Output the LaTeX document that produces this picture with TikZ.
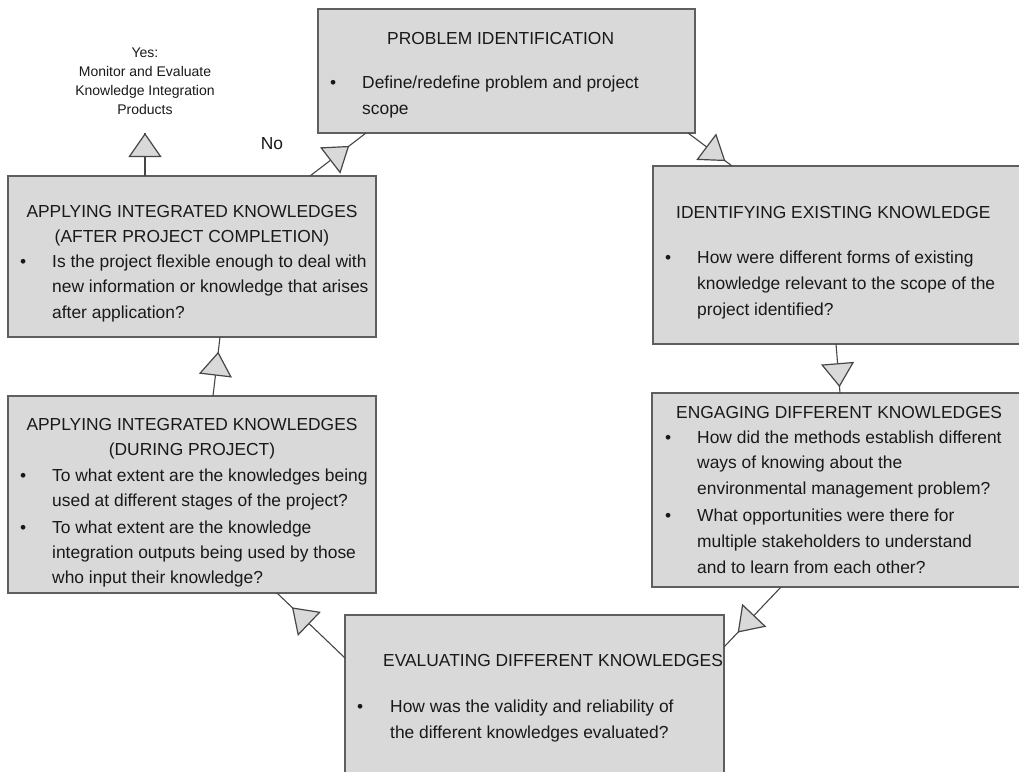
\documentclass[tikz,border=0pt]{standalone}
\usepackage{fontspec}
\setmainfont{Liberation Sans}
\usetikzlibrary{arrows.meta,decorations.markings,calc}
\definecolor{boxfill}{RGB}{217,217,217}
\definecolor{edgecol}{RGB}{95,95,95}
\definecolor{linecol}{RGB}{70,70,70}
\tikzset{
  bigtri/.tip={Triangle[length=24pt,width=33pt,fill=boxfill,line width=1.2pt]},
  box/.style={draw=edgecol, line width=1.6pt, fill=boxfill, anchor=north west, inner sep=0pt, outer sep=0pt},
  txt/.style={anchor=base west, inner sep=0pt, font=\fontsize{17.4}{22}\selectfont, text=black!90},
  ctxt/.style={anchor=base, inner sep=0pt, font=\fontsize{17.4}{22}\selectfont, text=black!90},
  small/.style={anchor=base, inner sep=0pt, font=\fontsize{14}{18}\selectfont, text=black!90},
  conn/.style={draw=linecol, line width=1.1pt},
  triat/.style={conn, postaction={decorate}, decoration={markings, mark=at position #1 with {\arrow[draw=linecol]{bigtri}}}}
}
\begin{document}
\begin{tikzpicture}[x=1pt,y=-1pt]
\clip (0,0) rectangle (1019,771);
\fill[white] (0,0) rectangle (1019,771);

% boxes
\node[box, minimum width=377pt, minimum height=124pt] (pi) at (318,9) {};
\node[box, minimum width=380pt, minimum height=178pt] (iek) at (653,166) {};
\node[box, minimum width=380pt, minimum height=194pt] (edk) at (652,393) {};
\node[box, minimum width=379pt, minimum height=180pt] (ev) at (345,615) {};
\node[box, minimum width=368pt, minimum height=197pt] (aikd) at (8,396) {};
\node[box, minimum width=368pt, minimum height=161pt] (aika) at (8,176) {};

% PROBLEM IDENTIFICATION
\node[txt] (pi1) at (387,44) {PROBLEM IDENTIFICATION};
\node[txt] (pib) at (330,88) {•};
\node[txt] (pi2) at (362,88) {Define/redefine problem and project};
\node[txt] (pi3) at (362,114) {scope};

% IDENTIFYING EXISTING KNOWLEDGE
\node[txt] (ie1) at (676,218) {IDENTIFYING EXISTING KNOWLEDGE};
\node[txt] (ieb) at (665,263) {•};
\node[txt] (ie2) at (697,263) {How were different forms of existing};
\node[txt] (ie3) at (697,289) {knowledge relevant to the scope of the};
\node[txt] (ie4) at (697,315) {project identified?};

% ENGAGING DIFFERENT KNOWLEDGES
\node[txt] (ed1) at (676,418) {ENGAGING DIFFERENT KNOWLEDGES};
\node[txt] (edb1) at (665,443) {•};
\node[txt] (ed2) at (697,443) {How did the methods establish different};
\node[txt] (ed3) at (697,468) {ways of knowing about the};
\node[txt] (ed4) at (697,494) {environmental management problem?};
\node[txt] (edb2) at (665,521) {•};
\node[txt] (ed5) at (697,521) {What opportunities were there for};
\node[txt] (ed6) at (697,547) {multiple stakeholders to understand};
\node[txt] (ed7) at (697,573) {and to learn from each other?};

% EVALUATING DIFFERENT KNOWLEDGES
\node[txt] (ev1) at (383,666) {EVALUATING DIFFERENT KNOWLEDGES};
\node[txt] (evb) at (357,712) {•};
\node[txt] (ev2) at (390,712) {How was the validity and reliability of};
\node[txt] (ev3) at (390,738) {the different knowledges evaluated?};

% APPLYING (DURING PROJECT)
\node[ctxt] (ad1) at (192,430) {APPLYING INTEGRATED KNOWLEDGES};
\node[ctxt] (ad2) at (192,455) {(DURING PROJECT)};
\node[txt] (adb1) at (20,481) {•};
\node[txt] (ad3) at (52,481) {To what extent are the knowledges being};
\node[txt] (ad4) at (52,506) {used at different stages of the project?};
\node[txt] (adb2) at (20,533) {•};
\node[txt] (ad5) at (52,533) {To what extent are the knowledge};
\node[txt] (ad6) at (52,558) {integration outputs being used by those};
\node[txt] (ad7) at (52,583) {who input their knowledge?};

% APPLYING (AFTER PROJECT COMPLETION)
\node[ctxt] (aa1) at (192,217) {APPLYING INTEGRATED KNOWLEDGES};
\node[ctxt] (aa2) at (192,242) {(AFTER PROJECT COMPLETION)};
\node[txt] (aab) at (20,267) {•};
\node[txt] (aa3) at (52,267) {Is the project flexible enough to deal with};
\node[txt] (aa4) at (52,292) {new information or knowledge that arises};
\node[txt] (aa5) at (52,318) {after application?};

% Yes / No labels
\node[small] (y1) at (145,57) {Yes:};
\node[small] (y2) at (145,76) {Monitor and Evaluate};
\node[small] (y3) at (145,95) {Knowledge Integration};
\node[small] (y4) at (145,114) {Products};
\node[ctxt] (no) at (272,149) {No};
\coordinate (yestip) at (145,133);

% connectors
\draw[triat=0.85] ([xshift=370pt]pi.south west) -- ([xshift=79pt]iek.north west);
\draw[triat=0.88] ([xshift=183pt]iek.south west) -- ([xshift=188pt]edk.north west);
\draw[triat=0.76] ([xshift=129pt]edk.south west) -- ([yshift=-32pt]ev.north east);
\draw[triat=0.78] ([yshift=-43pt]ev.north west) -- ([xshift=269pt]aikd.south west);
\draw[triat=0.75] ([xshift=205pt]aikd.north west) -- ([xshift=212pt]aika.south west);
\draw[triat=0.70] ([xshift=302pt]aika.north west) -- ([xshift=48pt]pi.south west);
\draw[triat=1] ([xshift=137pt]aika.north west) -- (yestip);
\end{tikzpicture}
\end{document}
